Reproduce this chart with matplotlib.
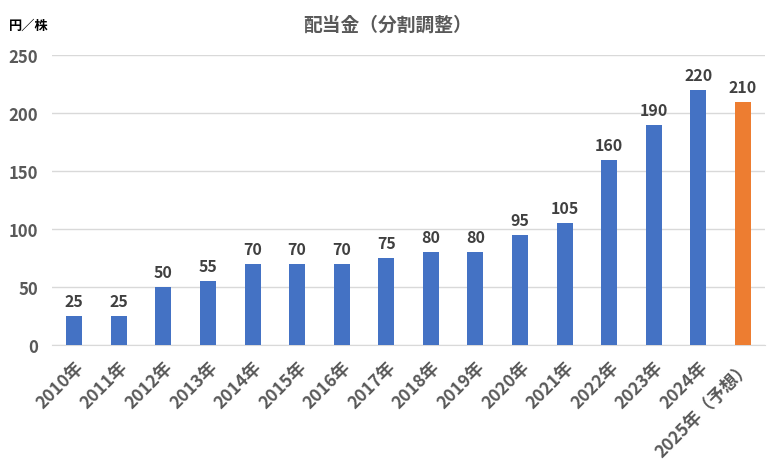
import matplotlib
matplotlib.use("Agg")
import matplotlib.pyplot as plt

plt.rcParams['font.family'] = ['Noto Sans CJK JP', 'DejaVu Sans']

years = ["2010年", "2011年", "2012年", "2013年", "2014年", "2015年", "2016年",
         "2017年", "2018年", "2019年", "2020年", "2021年", "2022年", "2023年",
         "2024年", "2025年（予想）"]
dividends = [25, 25, 50, 55, 70, 70, 70, 75, 80, 80, 95, 105, 160, 190, 220, 210]
forecast = [False] * 15 + [True]

BLUE = "#4472C4"
ORANGE = "#ED7D31"
GRAY = "#595959"


def plot_data():
    fig = plt.figure(figsize=(7.76, 4.64), dpi=100)
    ax = fig.add_axes([0.067, 0.254, 0.919, 0.625])

    x = range(len(years))
    colors = [ORANGE if f else BLUE for f in forecast]
    bars = ax.bar(x, dividends, width=0.36, color=colors, zorder=3)

    for b, v in zip(bars, dividends):
        ax.text(b.get_x() + b.get_width() / 2, v + 6, str(v), ha='center', va='bottom',
                fontsize=11.5, fontweight='bold', color='#404040')

    ax.set_xlim(-0.5, len(years) - 0.5)
    ax.set_ylim(0, 250)
    ax.set_yticks(range(0, 251, 50))
    ax.yaxis.grid(True, color='#D9D9D9', linewidth=1, zorder=0)
    ax.set_xticks(list(x))
    ax.set_xticklabels(years, rotation=45, ha='right', rotation_mode='anchor')
    ax.tick_params(axis='both', length=0, labelcolor=GRAY)
    ax.tick_params(axis='x', pad=9, labelsize=12.5)
    ax.tick_params(axis='y', pad=10, labelsize=12)
    for lbl in ax.get_xticklabels() + ax.get_yticklabels():
        lbl.set_fontweight('bold')
    for s in ['top', 'right', 'left']:
        ax.spines[s].set_visible(False)
    ax.spines['bottom'].set_color('#D9D9D9')

    fig.text(0.5, 0.945, "配当金（分割調整）", ha='center', va='center',
             fontsize=13.5, fontweight='bold', color=GRAY)
    fig.text(0.012, 0.945, "円／株", ha='left', va='center',
             fontsize=9.5, fontweight='bold', color='black')

    fig.savefig("out.png", dpi=100)


def main():
    plot_data()


main()
